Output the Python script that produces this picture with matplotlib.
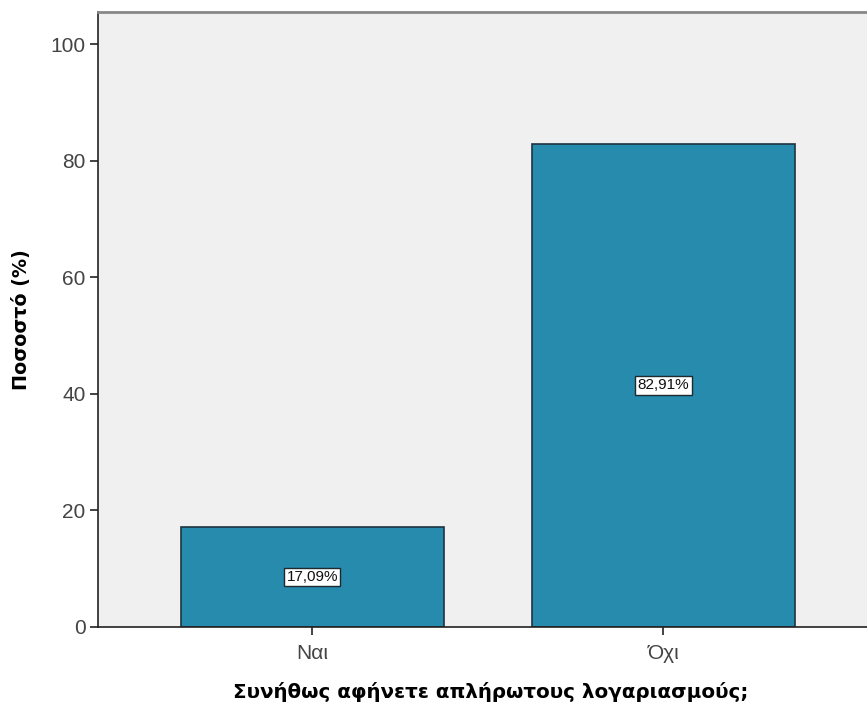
import numpy as np
import matplotlib.pyplot as plt

plt.rcParams['font.family'] = ['Liberation Sans', 'DejaVu Sans']

categories = ['Ναι', 'Όχι']
percentages = [17.09, 82.91]
yticks = [0, 20, 40, 60, 80, 100]

fig = plt.figure(figsize=(8.67, 7.07), dpi=100)
ax = fig.add_axes([0.113, 0.1132, 0.887, 0.8698])
ax.set_facecolor('#f0f0f0')

ind = np.arange(len(categories))
bars = ax.bar(ind, percentages, 0.75, color='#268bad', edgecolor='#1e3440', linewidth=1.2, zorder=2)

for rect, val in zip(bars, percentages):
    label = ('%.2f%%' % val).replace('.', ',')
    ax.text(rect.get_x() + rect.get_width() / 2, val / 2, label,
            ha='center', va='center', fontsize=11, color='#111111', zorder=3,
            bbox=dict(boxstyle='square,pad=0.15', facecolor='white', edgecolor='#1e2a30', linewidth=1))

ax.set_xlim(-0.611, 1.58)
ax.set_ylim(0, 105.5)
ax.set_xticks(ind)
ax.set_xticklabels(categories)
ax.set_yticks(yticks)

ax.tick_params(axis='both', direction='out', length=6, width=1.2, colors='#222222',
               labelsize=15, labelcolor='#444444', pad=3)
ax.tick_params(axis='x', pad=6)

for side in ['left', 'bottom']:
    ax.spines[side].set_color('#222222')
    ax.spines[side].set_linewidth(1.2)
ax.spines['top'].set_color('#888888')
ax.spines['top'].set_linewidth(2)
ax.spines['right'].set_visible(False)

ax.set_ylabel('Ποσοστό (%)', fontsize=13.8, fontweight='bold', labelpad=14,
              family=['DejaVu Sans'])
ax.set_xlabel('Συνήθως αφήνετε απλήρωτους λογαριασμούς;', fontsize=14.3, fontweight='bold',
              labelpad=14, family=['DejaVu Sans'])
ax.xaxis.label.set_x(0.511)

fig.savefig('out.png', dpi=100)
